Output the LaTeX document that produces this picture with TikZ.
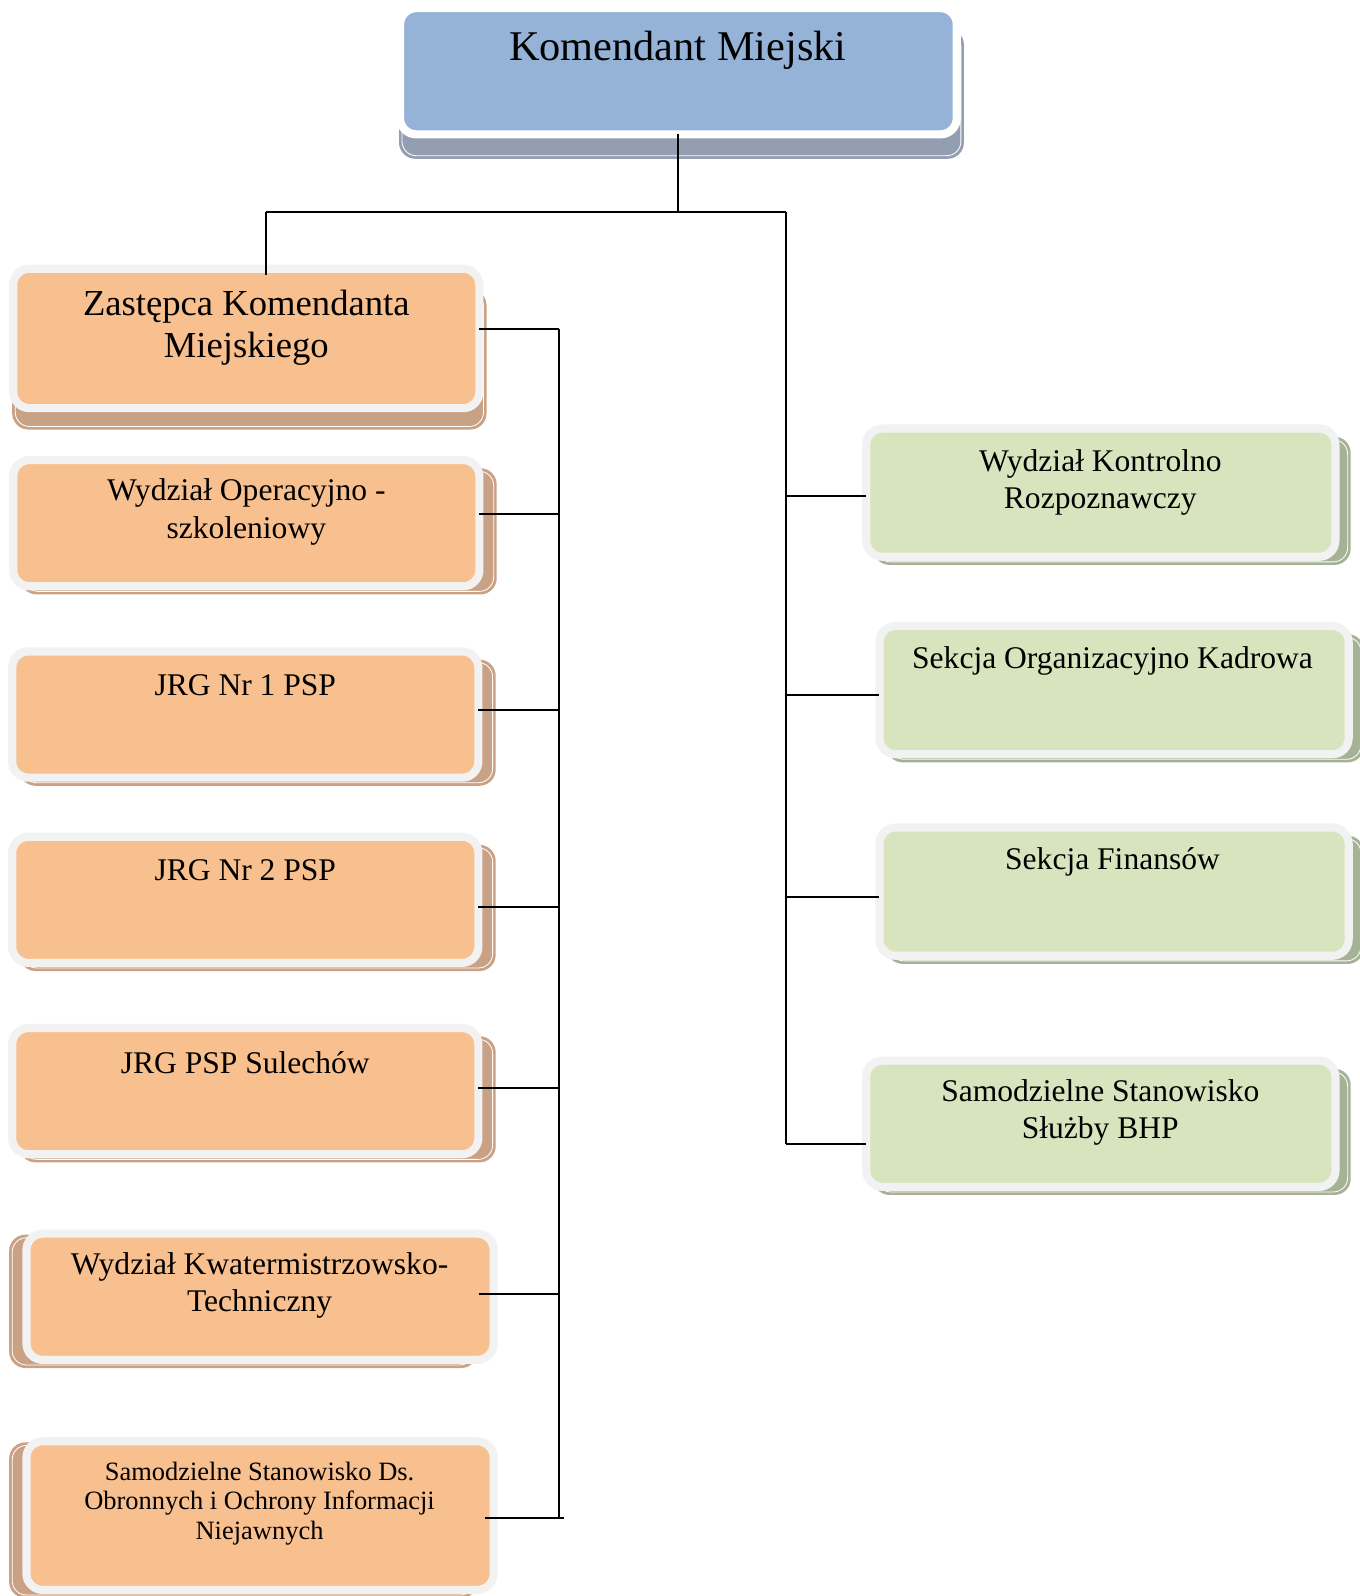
\documentclass[tikz,border=0pt]{standalone}
\usepackage{fontspec}
\setmainfont{Liberation Serif}
\usetikzlibrary{calc}
\pgfdeclarelayer{bg}
\pgfsetlayers{bg,main}
\definecolor{bluefill}{HTML}{95B3D7}
\definecolor{blueshadow}{HTML}{939FB1}
\definecolor{orangefill}{HTML}{F9C08F}
\definecolor{tanshadow}{HTML}{C9A184}
\definecolor{greenfill}{HTML}{D7E4BD}
\definecolor{greenshadow}{HTML}{A6B295}
\definecolor{bordergray}{HTML}{F2F2F2}
\newcommand\boxshadow[6]{%
  \begin{pgfonlayer}{bg}
    \fill[#2, rounded corners=16] ($(#1.north west)+(#3,#4)$) rectangle ($(#1.south east)+(#5,#6)$);
    \draw[white, line width=0.8, rounded corners=14] ($(#1.north west)+(#3+3,#4+3)$) rectangle ($(#1.south east)+(#5-3,#6-3)$);
  \end{pgfonlayer}}
\begin{document}
\begin{tikzpicture}[x=1pt,y=-1pt,
  box/.style={rectangle, rounded corners=16, line width=8, draw=bordergray, inner sep=0, outer sep=0},
  bbox/.style={box, fill=bluefill, draw=white},
  obox/.style={box, fill=orangefill},
  gbox/.style={box, fill=greenfill},
  conn/.style={line width=2, black},
  lbl/.style={align=center, inner sep=0, font=\fontsize{31}{37}\selectfont},
  big/.style={lbl, font=\fontsize{36}{42}\selectfont},
  huge/.style={lbl, font=\fontsize{41.6}{48}\selectfont},
  small/.style={lbl, font=\fontsize{26}{29}\selectfont}]
\useasboundingbox (0,0) rectangle (1336,1568);
\begin{pgfonlayer}{bg}
\fill[white] (0,0) rectangle (1336,1568);
\end{pgfonlayer}

% boxes
\node[bbox, minimum width=547, minimum height=124] (km) at (666.5,70) {};
\node[obox, minimum width=458, minimum height=137] (zast) at (242,332.5) {};
\node[obox, minimum width=458, minimum height=124] (wop) at (242,514) {};
\node[obox, minimum width=458, minimum height=124] (jrg1) at (241,702) {};
\node[obox, minimum width=458, minimum height=124] (jrg2) at (241,884) {};
\node[obox, minimum width=458, minimum height=124] (sul) at (241,1072) {};
\node[obox, minimum width=459, minimum height=124] (kwat) at (255.5,1274) {};
\node[obox, minimum width=459, minimum height=146] (sds) at (255.5,1489) {};
\node[gbox, minimum width=461, minimum height=126] (wkr) at (1081.5,484) {};
\node[gbox, minimum width=461, minimum height=126] (sok) at (1094.5,678) {};
\node[gbox, minimum width=461, minimum height=126] (sfin) at (1094.5,876) {};
\node[gbox, minimum width=461, minimum height=124] (bhp) at (1081.5,1104) {};

% shadows
\boxshadow{km}{blueshadow}{-1}{20}{7}{24}
\boxshadow{zast}{tanshadow}{-1}{20}{7}{21}
\boxshadow{wop}{tanshadow}{7}{8}{17}{8}
\boxshadow{jrg1}{tanshadow}{7}{8}{17}{8}
\boxshadow{jrg2}{tanshadow}{7}{8}{17}{8}
\boxshadow{sul}{tanshadow}{7}{8}{17}{8}
\boxshadow{kwat}{tanshadow}{-17}{1}{-16}{8}
\boxshadow{sds}{tanshadow}{-17}{1}{-16}{8}
\boxshadow{wkr}{greenshadow}{7}{8}{15}{8}
\boxshadow{sok}{greenshadow}{7}{8}{15}{8}
\boxshadow{sfin}{greenshadow}{7}{8}{15}{8}
\boxshadow{bhp}{greenshadow}{7}{8}{15}{8}

% texts
\node[huge] (tkm) at (666,49) {Komendant Miejski};
\node[big] (tzast) at (242,322) {Zastępca Komendanta\\Miejskiego};
\node[lbl] (twop) at (242,503) {Wydział Operacyjno -\\szkoleniowy};
\node[lbl] (tjrg1) at (241,673) {JRG Nr 1 PSP};
\node[lbl] (tjrg2) at (241,855) {JRG Nr 2 PSP};
\node[lbl] (tsul) at (241,1044) {JRG PSP Sulechów};
\node[lbl] (tkwat) at (255,1263) {Wydział Kwatermistrzowsko-\\Techniczny};
\node[small] (tsds) at (255,1477) {Samodzielne Stanowisko Ds.\\Obronnych i Ochrony Informacji\\Niejawnych};
\node[lbl] (twkr) at (1081,474) {Wydział Kontrolno\\Rozpoznawczy};
\node[lbl] (tsok) at (1093,649) {Sekcja Organizacyjno Kadrowa};
\node[lbl] (tsfin) at (1093,847) {Sekcja Finansów};
\node[lbl] (tbhp) at (1081,1093) {Samodzielne Stanowisko\\Służby BHP};

% connector junctions
\coordinate (j0) at (666.5,208);
\coordinate (jl) at (261,208);
\coordinate (jr) at (772,208);
\coordinate (r1) at (772,487);
\coordinate (r2) at (772,683);
\coordinate (r3) at (772,881);
\coordinate (r4) at (772,1124);
\coordinate (l1) at (549,323);
\coordinate (l2) at (549,505);
\coordinate (l3) at (549,698);
\coordinate (l4) at (549,891);
\coordinate (l5) at (549,1069);
\coordinate (l6) at (549,1271);
\coordinate (l7) at (549,1491);
\coordinate (l7e) at (554,1491);

% connectors
\draw[conn] (km.south) -- (j0);
\draw[conn] (jl) -- (jr);
\draw[conn] (jl) -- ($(jl |- zast.north)+(0,6)$);
\draw[conn] (jr) -- (r4);
\draw[conn] (r1) -- (r1 -| wkr.west);
\draw[conn] (r2) -- (r2 -| sok.west);
\draw[conn] (r3) -- (r3 -| sfin.west);
\draw[conn] (r4) -- (r4 -| bhp.west);
\draw[conn] (l1) -- (l7);
\draw[conn] (l1) -- (l1 -| zast.east);
\draw[conn] (l2) -- (l2 -| wop.east);
\draw[conn] (l3) -- (l3 -| jrg1.east);
\draw[conn] (l4) -- (l4 -| jrg2.east);
\draw[conn] (l5) -- (l5 -| sul.east);
\draw[conn] (l6) -- ($(l6 -| kwat.east)+(-14,0)$);
\draw[conn] (l7e) -- ($(l7 -| sds.east)+(-9,0)$);
\end{tikzpicture}
\end{document}
